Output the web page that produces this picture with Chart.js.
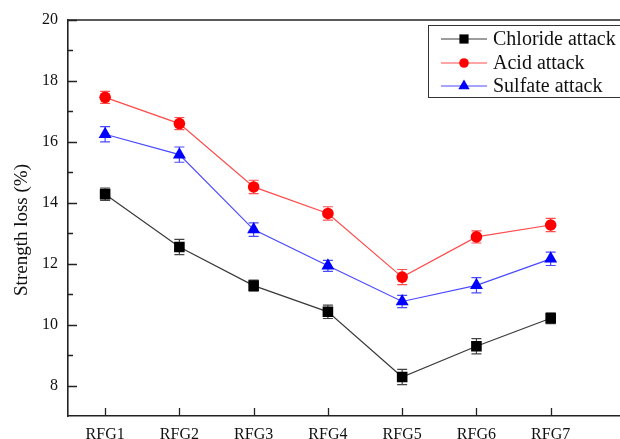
<!DOCTYPE html>
<html>
<head>
<meta charset="utf-8">
<script src="https://cdn.jsdelivr.net/npm/chart.js@4.4.1/dist/chart.umd.min.js"></script>
<style>
  html, body { margin: 0; padding: 0; background: #fff; overflow: hidden; }
</style>
</head>
<body>
<canvas id="canvas" width="677" height="439"></canvas>
<script>
const groups = ["RFG1", "RFG2", "RFG3", "RFG4", "RFG5", "RFG6", "RFG7"];
const chloride = [14.28, 12.55, 11.28, 10.42, 8.28, 9.29, 10.21];
const chlorideErr = [0.2, 0.25, 0.18, 0.22, 0.25, 0.25, 0.18];
const acid = [17.46, 16.6, 14.52, 13.65, 11.56, 12.88, 13.27];
const acidErr = [0.2, 0.2, 0.22, 0.22, 0.25, 0.2, 0.22];
const sulfate = [16.25, 15.58, 13.12, 11.93, 10.76, 11.29, 12.16];
const sulfateErr = [0.25, 0.25, 0.22, 0.18, 0.2, 0.25, 0.22];
const yTicks = [8, 10, 12, 14, 16, 18, 20];
const yMinor = [9, 11, 13, 15, 17, 19];
const yTitle = "Strength loss (%)";

const serif = "'Liberation Serif', 'Times New Roman', serif";

function toPoints(vals) {
  return vals.map(function (v, i) {
    return { x: i + 1, y: v };
  });
}

// error bars, inward ticks, top frame, axis title and the boxed legend
const extras = {
  id: "extras",
  beforeDatasetsDraw(chart) {
    const ctx = chart.ctx;
    const x = chart.scales.x;
    const y = chart.scales.y;
    ctx.save();
    chart.data.datasets.forEach(function (ds) {
      ctx.strokeStyle = ds.errColor;
      ctx.lineWidth = 1.2;
      ds.data.forEach(function (p, i) {
        const px = x.getPixelForValue(p.x);
        const top = y.getPixelForValue(p.y + ds.err[i]);
        const bot = y.getPixelForValue(p.y - ds.err[i]);
        ctx.beginPath();
        ctx.moveTo(px, top);
        ctx.lineTo(px, bot);
        ctx.moveTo(px - 5, top);
        ctx.lineTo(px + 5, top);
        ctx.moveTo(px - 5, bot);
        ctx.lineTo(px + 5, bot);
        ctx.stroke();
      });
    });
    ctx.restore();
  },
  afterDraw(chart) {
    const ctx = chart.ctx;
    const a = chart.chartArea;
    const x = chart.scales.x;
    const y = chart.scales.y;
    ctx.save();
    ctx.strokeStyle = "#222";
    ctx.lineWidth = 1.6;
    ctx.beginPath();
    ctx.moveTo(a.left, a.top);
    ctx.lineTo(a.right, a.top);
    ctx.stroke();
    ctx.lineWidth = 1.3;
    ctx.beginPath();
    yTicks.forEach(function (v) {
      const py = Math.round(y.getPixelForValue(v)) + 0.5;
      ctx.moveTo(a.left, py);
      ctx.lineTo(a.left + 9, py);
    });
    yMinor.forEach(function (v) {
      const py = Math.round(y.getPixelForValue(v)) + 0.5;
      ctx.moveTo(a.left, py);
      ctx.lineTo(a.left + 5, py);
    });
    groups.forEach(function (g, i) {
      const px = Math.round(x.getPixelForValue(i + 1)) + 0.5;
      ctx.moveTo(px, a.bottom);
      ctx.lineTo(px, a.bottom - 8);
    });
    ctx.stroke();

    // y title, sits a bit below the middle like the original
    ctx.save();
    ctx.translate(22, 230);
    ctx.rotate(-Math.PI / 2);
    ctx.font = "19px " + serif;
    ctx.fillStyle = "#111";
    ctx.textAlign = "center";
    ctx.textBaseline = "middle";
    ctx.fillText(yTitle, 0, 0);
    ctx.restore();

    // legend
    ctx.strokeStyle = "#333";
    ctx.lineWidth = 1;
    ctx.strokeRect(428.5, 25.5, 240, 72);
    const rows = [39, 63, 86];
    ctx.font = "20px " + serif;
    ctx.textBaseline = "middle";
    chart.data.datasets.forEach(function (ds, i) {
      const ry = rows[i];
      ctx.strokeStyle = ds.borderColor;
      ctx.lineWidth = 1.2;
      ctx.beginPath();
      ctx.moveTo(441, ry);
      ctx.lineTo(487, ry);
      ctx.stroke();
      ctx.fillStyle = ds.pointBackgroundColor;
      ctx.strokeStyle = ds.pointBackgroundColor;
      Chart.helpers.drawPoint(ctx, {
        pointStyle: ds.pointStyle,
        radius: ds.pointRadius - 1,
        borderWidth: 0
      }, 464, ry);
      ctx.fillStyle = "#111";
      ctx.fillText(ds.label, 493, ry + 1);
    });
    ctx.restore();
  }
};

const ctx = document.getElementById("canvas").getContext("2d");
const myChart = new Chart(ctx, {
  type: "line",
  data: {
    datasets: [
      {
        label: "Chloride attack",
        data: toPoints(chloride),
        err: chlorideErr,
        errColor: "#444",
        borderColor: "#3a3a3a",
        borderWidth: 1.2,
        pointStyle: "rect",
        pointRadius: 7.5,
        pointBackgroundColor: "#000",
        pointBorderColor: "#000",
        pointBorderWidth: 0,
      },
      {
        label: "Acid attack",
        data: toPoints(acid),
        err: acidErr,
        errColor: "#ff5050",
        borderColor: "#ff4a4a",
        borderWidth: 1.2,
        pointStyle: "circle",
        pointRadius: 5.8,
        pointBackgroundColor: "#ff0000",
        pointBorderColor: "#ff0000",
        pointBorderWidth: 0,
      },
      {
        label: "Sulfate attack",
        data: toPoints(sulfate),
        err: sulfateErr,
        errColor: "#4a4aff",
        borderColor: "#4a4aff",
        borderWidth: 1.2,
        pointStyle: "triangle",
        pointRadius: 7.5,
        pointBackgroundColor: "#0000ff",
        pointBorderColor: "#0000ff",
        pointBorderWidth: 0,
      },
    ],
  },
  options: {
    responsive: false,
    animation: false,
    layout: { padding: { top: 20, right: 0, left: 0, bottom: 0 } },
    plugins: {
      legend: { display: false },
      tooltip: { enabled: false },
    },
    scales: {
      x: {
        type: "linear",
        min: 0.5,
        max: 8.6,
        afterBuildTicks(scale) {
          scale.ticks = groups.map(function (g, i) {
            return { value: i + 1 };
          });
        },
        afterFit(scale) {
          scale.height = 23;
        },
        ticks: {
          callback: function (v) {
            return groups[v - 1];
          },
          font: { family: serif, size: 16 },
          color: "#111",
          padding: 9,
          maxRotation: 0,
        },
        grid: { display: false, drawTicks: false },
        border: { color: "#222", width: 1.6 },
      },
      y: {
        min: 7,
        max: 20,
        afterBuildTicks(scale) {
          scale.ticks = yTicks.map(function (v) {
            return { value: v };
          });
        },
        afterFit(scale) {
          scale.width = 68;
        },
        ticks: {
          font: { family: serif, size: 16 },
          color: "#111",
          padding: 10,
        },
        grid: { display: false, drawTicks: false },
        border: { color: "#222", width: 1.6 },
      },
    },
  },
  plugins: [extras],
});
</script>
</body>
</html>
